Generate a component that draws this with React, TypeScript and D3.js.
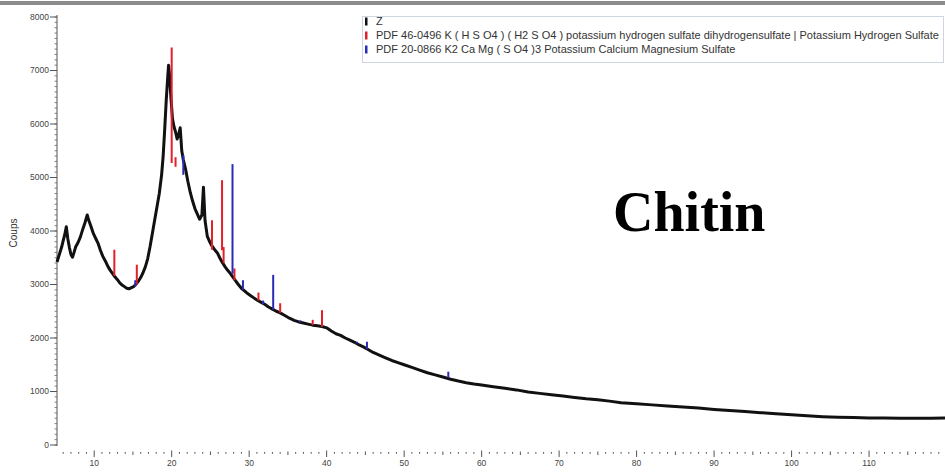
import * as d3 from 'd3';
import React from 'react';

// diffractogram "Z" (2-theta, counts)
const zTheta = [
  5.2, 5.5, 5.8, 6.0, 6.2, 6.4, 6.6, 6.8, 7.0, 7.2, 7.4, 7.6, 7.9, 8.2, 8.5, 8.8, 9.1, 9.3, 9.6, 9.9,
  10.2, 10.5, 10.8, 11.1, 11.4, 11.8, 12.1, 12.4, 12.7, 13.0, 13.3, 13.6, 13.9, 14.2, 14.5, 14.8, 15.1,
  15.4, 15.7, 16.0, 16.3, 16.6, 16.9, 17.2, 17.5, 17.8, 18.1, 18.4, 18.7, 18.9, 19.1, 19.3, 19.5, 19.6,
  19.7, 19.9, 20.1, 20.3, 20.5, 20.7, 20.9, 21.1, 21.3, 21.5, 21.8, 22.1, 22.4, 22.7, 23.0, 23.3, 23.6,
  23.9, 24.1, 24.3, 24.6, 24.9, 25.2, 25.5, 25.9, 26.2, 26.5, 26.9, 27.2, 27.6, 27.9, 28.3, 28.6, 29.0,
  29.4, 29.8, 30.2, 30.6, 31.0, 31.5, 32.0, 32.5, 33.0, 33.5, 34.0, 34.6, 35.2, 35.8, 36.4, 37.0, 37.6,
  38.2, 38.8, 39.4, 40.0, 40.6, 41.2, 41.8, 42.4, 43.0, 43.6, 44.2, 44.8, 45.4, 46.0, 46.8, 47.6, 48.4,
  49.2, 50.0, 51.0, 52.0, 53.0, 54.0, 55.0, 56.0, 57.0, 58.0, 59.0, 60.0, 61.5, 63.0, 64.5, 66.0, 67.5,
  69.0, 70.5, 72.0, 73.5, 75.0, 76.5, 78.0, 80.0, 82.0, 84.0, 86.0, 88.0, 90.0, 92.0, 94.0, 96.0, 98.0,
  100.0, 102.0, 104.0, 106.0, 108.0, 110.0, 112.0, 114.0, 116.0, 118.0, 119.8
];
const zCounts = [
  3420, 3560, 3700, 3820, 3930, 4080, 3850, 3690, 3560, 3510, 3600, 3700, 3780, 3880, 4020, 4150, 4300, 4200, 4080, 3950,
  3860, 3770, 3640, 3530, 3450, 3330, 3260, 3200, 3140, 3090, 3030, 2990, 2960, 2930, 2920, 2940, 2960,
  3010, 3060, 3130, 3220, 3330, 3480, 3700, 3950, 4200, 4450, 4700, 5050, 5400, 5900, 6450, 6900, 7100,
  6950, 6500, 6100, 5950, 5850, 5720, 5800, 5930, 5500, 5330, 5150, 4920, 4720, 4560, 4420, 4320, 4220,
  4300, 4820, 4200, 3900, 3800, 3720, 3660, 3590, 3500, 3420, 3330, 3270, 3200, 3140, 3060, 3000, 2930,
  2880, 2830, 2790, 2750, 2710, 2670, 2630, 2580, 2540, 2500, 2470, 2420, 2370, 2330, 2300, 2280, 2260,
  2240, 2230, 2215, 2190, 2130, 2080, 2050, 2000, 1960, 1920, 1870, 1830, 1780, 1730, 1680, 1630, 1580,
  1540, 1500, 1450, 1400, 1350, 1310, 1270, 1230, 1195, 1165, 1140, 1120, 1090, 1060, 1030, 990, 965,
  940, 915, 890, 865, 845, 820, 790, 770, 750, 730, 710, 690, 665, 645, 625, 605, 585,
  565, 545, 530, 520, 512, 507, 505, 502, 500, 502, 505
];

// PDF 46-0496 sticks
const redTheta = [12.6, 15.5, 20.0, 20.5, 25.2, 26.5, 26.7, 28.1, 31.2, 34.0, 38.2, 39.4];
const redTop = [3650, 3370, 7430, 5380, 4200, 4950, 3700, 3300, 2850, 2650, 2340, 2520];
const redBottom = [3160, 3000, 5270, 5200, 3650, 3640, 3400, 3080, 2700, 2470, 2240, 2210];

// PDF 20-0866 sticks
const blueTheta = [15.3, 21.5, 27.85, 29.2, 31.8, 33.1, 36.6, 43.9, 45.2, 55.7];
const blueTop = [3080, 5420, 5250, 3080, 2700, 3180, 2330, 1930, 1930, 1370];
const blueBottom = [2960, 5050, 3200, 2900, 2630, 2530, 2290, 1900, 1790, 1260];

const legendLabels = [
  'Z',
  'PDF 46-0496 K ( H S O4 ) ( H2 S O4 ) potassium hydrogen sulfate dihydrogensulfate | Potassium Hydrogen Sulfate',
  'PDF 20-0866 K2 Ca Mg ( S O4 )3 Potassium Calcium Magnesium Sulfate'
];
const legendColors = ['#111111', '#e3202a', '#2a2ab4'];

const W = 945;
const H = 472;

export default function App() {
  const x = d3.scaleLinear().domain([5.2, 119.8]).range([57, 945]);
  const y = d3.scaleLinear().domain([0, 8000]).range([445, 17]);

  const pts = zTheta.map((t, i) => [t, zCounts[i]] as [number, number]);
  const line = d3
    .line<[number, number]>()
    .x((d) => x(d[0]))
    .y((d) => y(d[1]));

  const yMajor = d3.range(0, 8001, 1000);
  const yMinor = d3.range(0, 8001, 100);
  const xMinor = d3.range(6, 120, 1);
  const font = 'Liberation Sans, Arial, sans-serif';

  return (
    <svg width={W} height={H} style={{ position: 'absolute', left: 0, top: 0, background: '#fff' }}>
      <rect x={0} y={0} width={W} height={H} fill="#fff" />
      <rect x={0} y={1} width={W} height={4} fill="#8c8c8c" />

      {/* y axis */}
      <line x1={57} x2={57} y1={15} y2={446} stroke="#555" strokeWidth={1} />
      {yMinor.map((v) => (
        <line key={'ym' + v} x1={54.5} x2={57} y1={y(v)} y2={y(v)} stroke="#666" strokeWidth={0.8} />
      ))}
      {yMajor.map((v) => (
        <g key={'yM' + v}>
          <line x1={50} x2={57} y1={y(v)} y2={y(v)} stroke="#555" strokeWidth={1} />
          <text x={49} y={y(v)} dy="0.35em" textAnchor="end" fontSize={8.5} fontFamily={font} fill="#444">
            {v}
          </text>
        </g>
      ))}
      <text
        transform="translate(17,233) rotate(-90)"
        textAnchor="middle"
        fontSize={10}
        fontFamily={font}
        fill="#333"
      >
        Coups
      </text>

      {/* x axis */}
      {xMinor.map((t) => {
        const major = t % 10 === 0;
        const mid = !major && t % 5 === 0;
        return (
          <line
            key={'xt' + t}
            x1={x(t)}
            x2={x(t)}
            y1={major ? 450.5 : mid ? 451.5 : 452}
            y2={major ? 457 : mid ? 455 : 453.8}
            stroke="#555"
            strokeWidth={1}
          />
        );
      })}
      {d3.range(10, 120, 10).map((t) => (
        <text key={'xl' + t} x={x(t)} y={466} textAnchor="middle" fontSize={8.5} fontFamily={font} fill="#444">
          {t}
        </text>
      ))}

      {/* pattern */}
      <path d={line(pts) || ''} fill="none" stroke="#111" strokeWidth={3} strokeLinejoin="round" />

      {/* reference sticks */}
      {redTheta.map((t, i) => (
        <line key={'r' + i} x1={x(t)} x2={x(t)} y1={y(redBottom[i])} y2={y(redTop[i])} stroke="#e3202a" strokeWidth={2} />
      ))}
      {blueTheta.map((t, i) => (
        <line key={'b' + i} x1={x(t)} x2={x(t)} y1={y(blueBottom[i])} y2={y(blueTop[i])} stroke="#2a2ab4" strokeWidth={2} />
      ))}

      {/* legend */}
      <rect x={362.5} y={16.5} width={581} height={46} fill="#fff" stroke="#cdd6e0" strokeWidth={1} />
      {legendLabels.map((s, i) => (
        <g key={'lg' + i}>
          <rect x={365} y={17.5 + i * 14} width={2.5} height={8} fill={legendColors[i]} />
          <text x={376} y={21.5 + i * 14} dy="0.35em" fontSize={11} fontFamily={font} fill="#333">
            {s}
          </text>
        </g>
      ))}

      <text x={613} y={231} fontFamily="Liberation Serif, Times New Roman, serif" fontWeight="bold" fontSize={56} fill="#000">
        Chitin
      </text>
    </svg>
  );
}
